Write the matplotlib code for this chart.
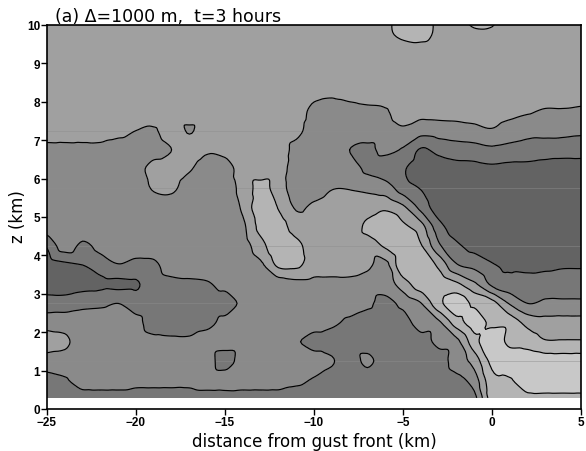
import matplotlib
matplotlib.use("Agg")
import matplotlib.pyplot as plt
import matplotlib.tri as mtri
import numpy as np

# grid: one profile per 1-km column, bottom to top
DIST_KM = [-25, -24, -23, -22, -21, -20, -19, -18, -17, -16, -15, -14, -13, -12, -11, -10,
           -9, -8, -7, -6, -5, -4, -3, -2, -1, 0, 1, 2, 3, 4, 5]
HEIGHT_KM = [0.29, 0.75, 1.25, 1.75, 2.25, 2.75, 3.25, 3.75, 4.25, 4.75, 5.25,
             5.75, 6.25, 6.75, 7.25, 7.75, 8.25, 8.75, 9.25, 9.75, 10.25]

# shade class of the field (0 = darkest ... 5 = lightest)
PROFILES = [
    [1, 1.2, 2, 3, 2, 1, 0, 0, 0.6, 2, 2, 2, 2, 2.1, 3.2, 3, 3, 3, 3, 3, 3],          # -25
    [1, 1.4, 2, 2.7, 2, 1, 0, 0.3, 2, 2, 2, 2, 2, 2.1, 3.2, 3, 3, 3, 3, 3, 3],        # -24
    [1, 2, 2, 2, 2, 1.2, 0.2, 0.5, 1.3, 2, 2, 2, 2, 2.1, 3.2, 3, 3, 3, 3, 3, 3],      # -23
    [1, 2, 2, 2, 2, 1.3, 0.3, 1.0, 1.8, 2, 2, 2, 2, 2.1, 3.2, 3, 3, 3, 3, 3, 3],      # -22
    [1, 2, 2, 2, 2, 1.5, 0.3, 1.45, 2, 2, 2, 2, 2, 2, 2.8, 3, 3, 3, 3, 3, 3],         # -21
    [1, 1.8, 2, 2, 1.8, 1.0, 0.4, 1.2, 2, 2, 2, 2, 2, 2, 2.5, 3, 3, 3, 3, 3, 3],      # -20
    [1, 1.8, 2, 1.8, 1.0, 1.0, 1.0, 1.3, 2, 2, 2, 2.6, 3, 2, 2.4, 3, 3, 3, 3, 3, 3],  # -19
    [1, 1.8, 2, 1.7, 1, 1, 1.2, 2, 2, 2, 2, 2.7, 3, 2.5, 3, 3, 3, 3, 3, 3, 3],        # -18
    [1, 1.8, 2, 1.7, 1, 1, 1.3, 2, 2, 2, 2, 2, 2.6, 3, 2.42, 3, 3, 3, 3, 3, 3],       # -17
    [1, 2, 2, 2, 1.2, 1, 1.4, 2, 2, 2, 2, 2, 2, 2.65, 3, 3, 3, 3, 3, 3, 3],           # -16
    [1, 2, 1.0, 2, 1.8, 1.0, 1.8, 2, 2, 2, 2, 2, 2, 2.8, 3, 3, 3, 3, 3, 3, 3],        # -15
    [1, 2, 2, 2, 2, 1.7, 2, 2, 2.1, 2.3, 2.65, 2.85, 3, 3, 3, 3, 3, 3, 3, 3, 3],      # -14
    [1, 2, 2, 2, 2, 2, 2, 2.3, 3.1, 3.8, 4.2, 3.8, 3, 3, 3, 3, 3, 3, 3, 3, 3],        # -13
    [1, 2, 2, 2, 2, 2, 2.0, 3.7, 4.3, 4.0, 3.45, 3, 3, 3, 3, 3, 3, 3, 3, 3, 3],       # -12
    [1, 1.7, 2, 1.6, 2, 2, 2.2, 3.7, 3.8, 3.0, 2.4, 2, 2, 2.2, 2.8, 3, 3, 3, 3, 3, 3],   # -11
    [1, 1.4, 2, 1.1, 2, 2, 2.2, 3, 3, 3, 2.7, 2, 2, 2, 2, 2.2, 2.8, 3, 3, 3, 3],         # -10
    [1, 1, 1.6, 1.0, 1.7, 2, 2.2, 3, 3, 3, 3, 2.45, 2, 2, 2, 2, 2.7, 3, 3, 3, 3],        # -9
    [1, 1, 1, 1, 1.3, 2, 2.2, 3, 3, 3, 3, 2.45, 2, 1.5, 2, 2.2, 2.8, 3, 3, 3, 3],        # -8
    [1, 1, 1.7, 1, 1, 1.7, 2, 2.7, 3.0, 3.7, 3.0, 2.3, 1.3, 1.3, 2, 2.3, 2.9, 3, 3, 3, 3],  # -7
    [1, 1, 1, 1, 1, 1.2, 2, 2.2, 3.65, 4.2, 3.3, 2.0, 1.0, 1.7, 2, 2.4, 3, 3, 3, 3.3, 3.3],   # -6
    [1, 1, 1, 1, 1, 1.8, 3.0, 4.3, 4.3, 3.7, 2.7, 1.0, 0.6, 1.4, 2.3, 3.0, 3, 3, 3, 3.7, 4.2],  # -5
    [1, 1, 1, 1, 2.1, 2.45, 4.0, 4.2, 3.6, 2.9, 1.2, 0.45, 0.0, 0.4, 1.9, 2.8, 3, 3, 3, 3.8, 4.2],  # -4
    [1, 1, 1, 1.8, 2.3, 4.2, 4.2, 3.3, 1.7, 0.9, 0, 0, 0, 0.8, 2.0, 2.8, 3, 3, 3, 3.3, 3.3],   # -3
    [1, 1.2, 2.0, 2.2, 4.0, 5.1, 3.7, 1.6, 0.7, 0, 0, 0, 0.2, 1.0, 2.1, 2.8, 3, 3, 3, 3, 3],   # -2
    [1.2, 2.0, 2.9, 4.1, 4.9, 4.3, 2.7, 1.2, 0.2, 0, 0, 0, 0.2, 1.1, 2.2, 2.9, 3, 3, 3, 3.3, 3.9],  # -1
    [4.0, 4.2, 4.8, 5.2, 4.3, 3.9, 1.3, 0.6, 0, 0, 0, 0, 0.3, 1.3, 2.4, 3.0, 3, 3, 3, 3.3, 3.9],  # 0
    [4.0, 4.4, 5.2, 4.2, 4.1, 2.4, 0.9, 0.3, 0, 0, 0, 0, 0.2, 1.2, 2.0, 2.8, 3, 3, 3, 3, 3],   # 1
    [4.2, 5.2, 5.2, 4.0, 3.2, 1.5, 1.0, 0.2, 0, 0, 0, 0, 0.2, 1.1, 1.8, 2.6, 3, 3, 3, 3, 3],   # 2
    [4.2, 5.2, 5.0, 3.6, 2.9, 1.7, 1.0, 0.3, 0, 0, 0, 0, 0.1, 1.0, 1.8, 2.4, 3, 3, 3, 3, 3],   # 3
    [4.2, 5.2, 5.0, 3.6, 2.9, 1.7, 1.0, 0.4, 0, 0, 0, 0, 0.1, 0.9, 1.8, 2.4, 3, 3, 3, 3, 3],   # 4
    [4.2, 5.2, 5.0, 3.6, 2.9, 1.7, 1.0, 0.4, 0, 0, 0, 0, 0.1, 0.9, 1.7, 2.3, 3, 3, 3, 3, 3],   # 5
]

LEVELS = [-1, 0.5, 1.5, 2.5, 3.5, 4.5, 7]
SHADES = ["#636363", "#777777", "#8a8a8a", "#a0a0a0", "#b4b4b4", "#c8c8c8"]
SEAM_HEIGHTS_KM = [1.25, 2.75, 4.25, 5.75, 7.25]

X_TICKS = [-25, -20, -15, -10, -5, 0, 5]
Y_TICKS = [0, 1, 2, 3, 4, 5, 6, 7, 8, 9, 10]

campo = np.array(PROFILES, dtype=float).T

# smoother contours, like the original plotting package: refine the mesh with
# matplotlib's own cubic triangle interpolator
xx, zz = np.meshgrid(DIST_KM, HEIGHT_KM)
tri = mtri.Triangulation(xx.ravel(), zz.ravel())
interp = mtri.CubicTriInterpolator(tri, campo.ravel(), kind="geom")
tri_fino, campo_fino = mtri.UniformTriRefiner(tri).refine_field(
    campo.ravel(), triinterpolator=interp, subdiv=3)

fig = plt.figure(figsize=(5.86, 4.52), dpi=100, facecolor="white")
ax = fig.add_axes([47 / 586, 42 / 452, 534 / 586, 384 / 452])

ax.tricontourf(tri_fino, campo_fino, levels=LEVELS, colors=SHADES, zorder=1)
for z in SEAM_HEIGHTS_KM:
    ax.axhline(z, color="#8e8e8e", lw=0.6, alpha=0.55, zorder=1.5)
ax.tricontour(tri_fino, campo_fino, levels=LEVELS[1:-1], colors="black",
              linewidths=0.85, zorder=2)

ax.set_xlim(-25, 5)
ax.set_ylim(0, 10)
ax.set_xticks(X_TICKS)
ax.set_yticks(Y_TICKS)
ax.tick_params(direction="out", length=4, width=1, pad=1, colors="black")
for lab in ax.get_xticklabels() + ax.get_yticklabels():
    lab.set_family("Liberation Sans")
    lab.set_weight("bold")
    lab.set_fontsize(8.5)
for spine in ax.spines.values():
    spine.set_linewidth(1.2)
    spine.set_zorder(3)

fig.text(55 / 586, 1 - 17 / 452, "(a) \u0394=1000 m,  t=3 hours", ha="left",
         va="center", fontsize=12.5, family="DejaVu Sans")
fig.text(314 / 586, 1 - 442 / 452, "distance from gust front (km)", ha="center",
         va="center", fontsize=12, family="DejaVu Sans")
fig.text(18 / 586, 1 - 217 / 452, "z (km)", ha="center", va="center",
         rotation=90, fontsize=12, family="DejaVu Sans")

fig.savefig("out.png", dpi=100)
